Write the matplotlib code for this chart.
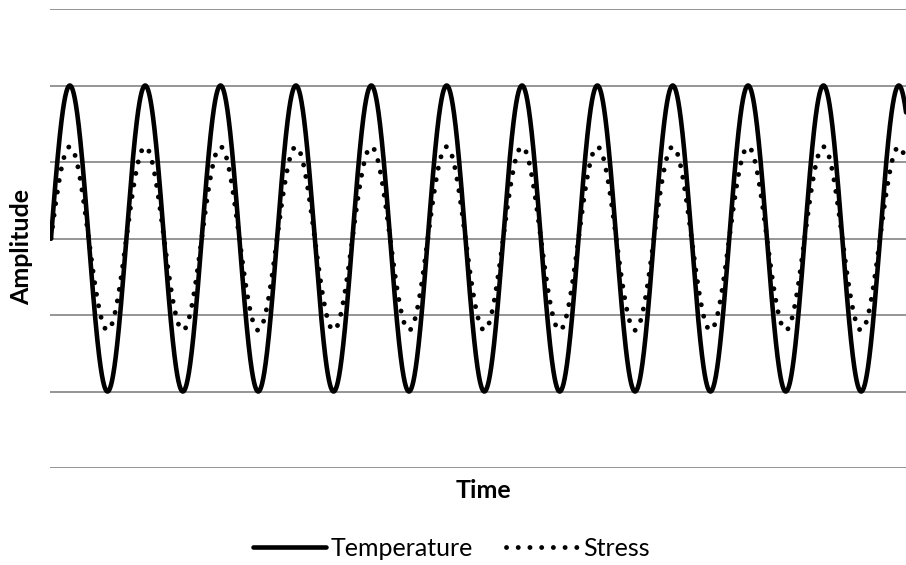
import numpy as np
import matplotlib
matplotlib.use("Agg")
import matplotlib.pyplot as plt

plt.rcParams['font.family'] = ['Lato', 'DejaVu Sans']

# Data
series_names = ["Temperature", "Stress"]
temperature_amplitude = 1.0
stress_amplitude = 0.6
n_cycles = 11.4          # number of oscillation cycles shown
y_ticks = [-1.5, -1.0, -0.5, 0.0, 0.5, 1.0, 1.5]
x_label = "Time"
y_label = "Amplitude"

t = np.linspace(0, n_cycles, 4000)
temperature = temperature_amplitude * np.sin(2 * np.pi * t)
stress = stress_amplitude * np.sin(2 * np.pi * t)

W, H = 906, 565
fig = plt.figure(figsize=(W / 100, H / 100), dpi=100)
ax = fig.add_axes([50 / W, 1 - 468 / H, (906 - 50) / W, (468 - 9) / H])

ax.plot(t, temperature, color='black', lw=3.3, solid_capstyle='round',
        label=series_names[0], zorder=3)
ax.plot(t, stress, color='black', lw=3.5, linestyle=(0, (0.01, 2.4)),
        dash_capstyle='round', label=series_names[1], zorder=4)

ax.set_xlim(-0.013, 11.345)
ax.set_ylim(y_ticks[0], y_ticks[-1])
ax.set_yticks(y_ticks)
ax.yaxis.grid(True, color='#8c8c8c', lw=1.3)
ax.set_axisbelow(True)
ax.tick_params(left=False, bottom=False, labelleft=False, labelbottom=False)
for s in ax.spines.values():
    s.set_visible(False)

fig.text(22 / W, 1 - 247 / H, y_label, rotation=90, ha='center', va='center',
         fontsize=18, fontweight='bold')
fig.text(483.5 / W, 1 - 491 / H, x_label, ha='center', va='center',
         fontsize=18, fontweight='bold')

leg = fig.legend(loc='center', bbox_to_anchor=(451.5 / W, 1 - 548 / H), ncol=2,
                 frameon=False, fontsize=18, handlelength=2.9,
                 handletextpad=0.2, columnspacing=1.3)

fig.savefig("out.png", dpi=100)
